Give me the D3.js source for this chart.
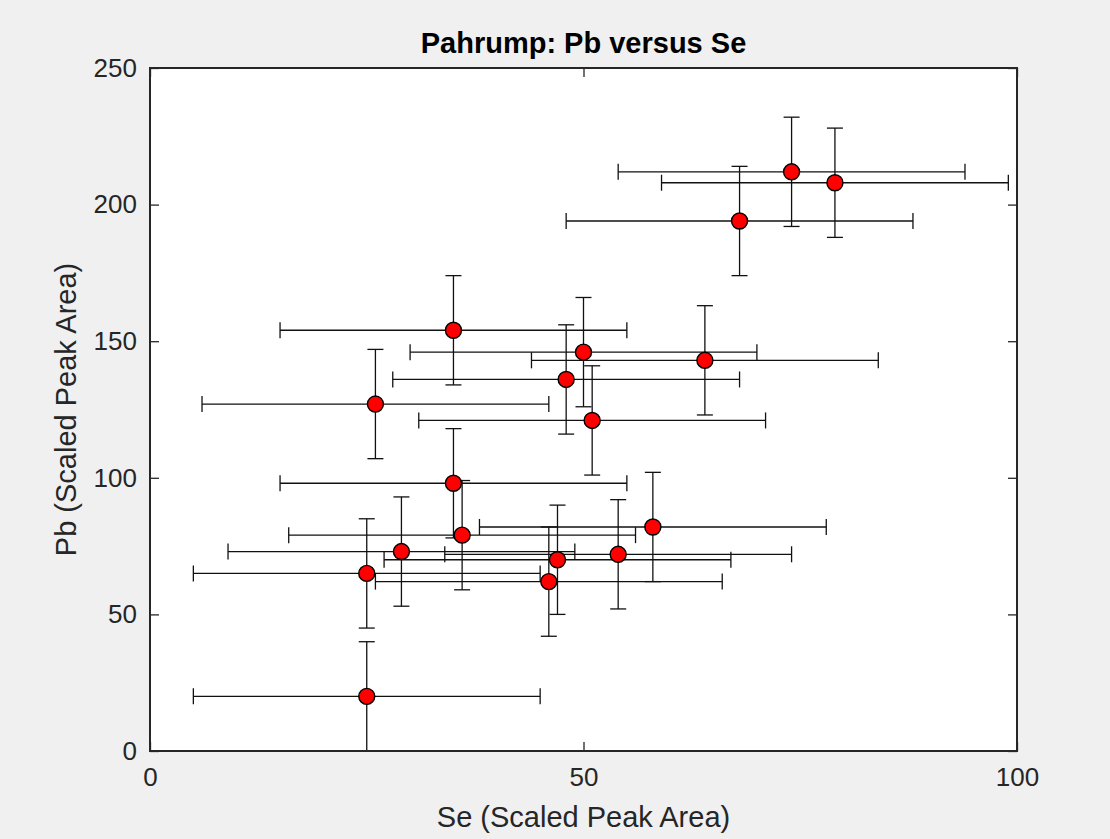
<!DOCTYPE html>
<html>
<head>
<meta charset="utf-8">
<script src="https://cdn.jsdelivr.net/npm/d3@7"></script>
<style>
  body { margin: 0; background: #f0f0f0; }
  text { font-family: "Liberation Sans", Arial, sans-serif; fill: #262626; }
</style>
</head>
<body>
<div id="svg-container"></div>
<script>
////////////////////////////  Data  ////////////////////////////
const seValues = [74, 79, 68, 35, 50, 64, 48, 26, 51, 35, 36, 58, 29, 47, 54, 25, 46, 25];
const pbValues = [212, 208, 194, 154, 146, 143, 136, 127, 121, 98, 79, 82, 73, 70, 72, 65, 62, 20];
const seErr = [20, 20, 20, 20, 20, 20, 20, 20, 20, 20, 20, 20, 20, 20, 20, 20, 20, 20];
const pbErr = [20, 20, 20, 20, 20, 20, 20, 20, 20, 20, 20, 20, 20, 20, 20, 20, 20, 20];
const xTicks = [0, 50, 100];
const yTicks = [0, 50, 100, 150, 200, 250];

////////////////////////////  Init  ////////////////////////////
const width = 1110;
const height = 839;
const margin = { top: 68, right: 93, bottom: 88, left: 150 };

const svg = d3
  .select("#svg-container")
  .append("svg")
  .attr("width", width)
  .attr("height", height);

svg.append("rect").attr("width", width).attr("height", height).attr("fill", "#f0f0f0");

const x = d3.scaleLinear().domain([0, 100]).range([margin.left, width - margin.right]);
const y = d3.scaleLinear().domain([0, 250]).range([height - margin.bottom, margin.top]);

const data = seValues.map((d, i) => ({ se: d, pb: pbValues[i], ex: seErr[i], ey: pbErr[i] }));

// plot area
svg
  .append("rect")
  .attr("x", x(0))
  .attr("y", y(250))
  .attr("width", x(100) - x(0))
  .attr("height", y(0) - y(250))
  .attr("fill", "white");

// error bars
const cap = 8;
const bars = svg.append("g").attr("stroke", "#111").attr("stroke-width", 1.3).attr("fill", "none");

data.forEach((d) => {
  const g = bars.append("g");
  // horizontal
  g.append("line")
    .attr("x1", x(d.se - d.ex)).attr("x2", x(d.se + d.ex))
    .attr("y1", y(d.pb)).attr("y2", y(d.pb));
  g.append("line")
    .attr("x1", x(d.se - d.ex)).attr("x2", x(d.se - d.ex))
    .attr("y1", y(d.pb) - cap).attr("y2", y(d.pb) + cap);
  g.append("line")
    .attr("x1", x(d.se + d.ex)).attr("x2", x(d.se + d.ex))
    .attr("y1", y(d.pb) - cap).attr("y2", y(d.pb) + cap);
  // vertical
  g.append("line")
    .attr("x1", x(d.se)).attr("x2", x(d.se))
    .attr("y1", y(d.pb - d.ey)).attr("y2", y(d.pb + d.ey));
  g.append("line")
    .attr("x1", x(d.se) - cap).attr("x2", x(d.se) + cap)
    .attr("y1", y(d.pb - d.ey)).attr("y2", y(d.pb - d.ey));
  g.append("line")
    .attr("x1", x(d.se) - cap).attr("x2", x(d.se) + cap)
    .attr("y1", y(d.pb + d.ey)).attr("y2", y(d.pb + d.ey));
});

// points
svg
  .append("g")
  .selectAll("circle")
  .data(data)
  .enter()
  .append("circle")
  .attr("cx", (d) => x(d.se))
  .attr("cy", (d) => y(d.pb))
  .attr("r", 8)
  .attr("fill", "#ff0000")
  .attr("stroke", "#000")
  .attr("stroke-width", 1.4);

// axes (box with inward ticks on all sides)
const tickLen = 9;
const axisColor = "#262626";

const styleAxis = (sel) => {
  sel.select(".domain").remove();
  sel.selectAll(".tick line").attr("stroke", axisColor).attr("stroke-width", 1.3);
  sel.selectAll(".tick text")
    .style("font-size", "26px")
    .style("font-family", "'Liberation Sans', Arial, sans-serif")
    .attr("fill", axisColor);
};

svg.append("g")
  .attr("transform", `translate(0,${y(0)})`)
  .call(d3.axisBottom(x).tickValues(xTicks).tickSize(-tickLen).tickPadding(17))
  .call(styleAxis);

svg.append("g")
  .attr("transform", `translate(0,${y(250)})`)
  .call(d3.axisTop(x).tickValues(xTicks).tickSize(-tickLen).tickFormat(""))
  .call(styleAxis);

svg.append("g")
  .attr("transform", `translate(${x(0)},0)`)
  .call(d3.axisLeft(y).tickValues(yTicks).tickSize(-tickLen).tickPadding(13))
  .call(styleAxis);

svg.append("g")
  .attr("transform", `translate(${x(100)},0)`)
  .call(d3.axisRight(y).tickValues(yTicks).tickSize(-tickLen).tickFormat(""))
  .call(styleAxis);

svg.append("rect")
  .attr("x", x(0))
  .attr("y", y(250))
  .attr("width", x(100) - x(0))
  .attr("height", y(0) - y(250))
  .attr("fill", "none")
  .attr("stroke", axisColor)
  .attr("stroke-width", 2);

// title & labels
svg.append("text")
  .attr("x", (x(0) + x(100)) / 2)
  .attr("y", 53)
  .attr("text-anchor", "middle")
  .style("font-size", "29px")
  .style("font-weight", "bold")
  .style("fill", "#000")
  .text("Pahrump: Pb versus Se");

svg.append("text")
  .attr("x", (x(0) + x(100)) / 2)
  .attr("y", 827)
  .attr("text-anchor", "middle")
  .style("font-size", "29px")
  .text("Se (Scaled Peak Area)");

svg.append("text")
  .attr("transform", `translate(76,${(y(0) + y(250)) / 2}) rotate(-90)`)
  .attr("text-anchor", "middle")
  .style("font-size", "29px")
  .text("Pb (Scaled Peak Area)");
</script>
</body>
</html>
